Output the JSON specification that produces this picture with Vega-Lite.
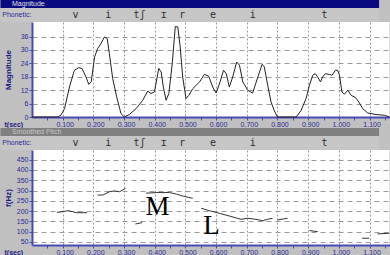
{
  "$schema": "https://vega.github.io/schema/vega-lite/v6.json",
  "background": "#c0c0c0",
  "padding": 0,
  "autosize": {"type": "pad"},
  "spacing": 0,
  "bounds": "flush",
  "config": {
    "view": {"stroke": null},
    "axis": {
      "labelFont": "Liberation Sans", "labelFontSize": 7, "labelColor": "#2c2c96",
      "domainColor": "#4a4ab4", "domainWidth": 2, "tickColor": "#4a4ab4", "tickSize": 3,
      "gridColor": "#9a9a9a", "titleFont": "Liberation Sans", "titleFontSize": 8,
      "titleFontWeight": "bold", "titleColor": "#1a1a80", "labelOverlap": false, "labelFlush": false
    },
    "axisX": {"gridDash": [2, 2]},
    "axisY": {"gridDash": [5, 4]}
  },
  "datasets": {
    "phon": [
      {"t": 0.146, "ph": "v"}, {"t": 0.256, "ph": "i"}, {"t": 0.361, "ph": "tʃ"}, {"t": 0.442, "ph": "ɪ"},
      {"t": 0.504, "ph": "r"}, {"t": 0.608, "ph": "e"}, {"t": 0.741, "ph": "i"}, {"t": 0.982, "ph": "t"}
    ]
  },
  "vconcat": [
    {
      "width": 357.5, "height": 8,
      "data": {"values": [{"name": "Magnitude"}]},
      "layer": [
        {"mark": {"type": "rect", "color": "#0a0a80"},
         "encoding": {"x": {"datum": -0.1059, "type": "quantitative", "scale": {"domain": [0, 1.165]}, "axis": null}, "x2": {"datum": 1.165}}},
        {"mark": {"type": "text", "align": "left", "baseline": "middle", "fontSize": 7, "color": "#e0e0e0", "font": "Liberation Sans"},
         "encoding": {"x": {"datum": -0.067, "type": "quantitative"}, "text": {"field": "name"}}}
      ]
    },
    {
      "width": 357.5, "height": 14,
      "data": {"name": "phon"},
      "layer": [
        {"data": {"values": [{"label": "Phonetic:"}]},
         "mark": {"type": "rect", "color": "#c6c6c6"},
         "encoding": {"x": {"datum": -0.1059, "type": "quantitative", "scale": {"domain": [0, 1.165]}, "axis": null}, "x2": {"datum": 1.165}}},
        {"data": {"values": [{"label": "Phonetic:"}]},
         "mark": {"type": "text", "align": "left", "baseline": "middle", "fontSize": 7, "color": "#2c2c96", "font": "Liberation Sans"},
         "encoding": {"x": {"datum": -0.1, "type": "quantitative"}, "text": {"field": "label"}}},
        {"mark": {"type": "text", "baseline": "middle", "fontSize": 10, "color": "#303030", "font": "DejaVu Sans Mono"},
         "encoding": {"x": {"field": "t", "type": "quantitative"}, "text": {"field": "ph"}}}
      ]
    },
    {
      "width": 357.5, "height": 95,
      "view": {"fill": "white", "stroke": null},
      "data": {"values": [
        {"t": 0, "m": 0}, {"t": 0.085, "m": 0}, {"t": 0.095, "m": 1}, {"t": 0.106, "m": 3.7}, {"t": 0.122, "m": 13.4},
        {"t": 0.138, "m": 20.9}, {"t": 0.152, "m": 22.1}, {"t": 0.163, "m": 21.7}, {"t": 0.176, "m": 17.9}, {"t": 0.185, "m": 14.6},
        {"t": 0.193, "m": 15.7}, {"t": 0.204, "m": 26.9}, {"t": 0.214, "m": 30.6}, {"t": 0.225, "m": 32.9}, {"t": 0.236, "m": 35.8},
        {"t": 0.245, "m": 35.1}, {"t": 0.252, "m": 28.4}, {"t": 0.263, "m": 17.2}, {"t": 0.276, "m": 9}, {"t": 0.29, "m": 1.5},
        {"t": 0.301, "m": 0}, {"t": 0.318, "m": 1.2}, {"t": 0.339, "m": 3.7}, {"t": 0.361, "m": 7.5}, {"t": 0.377, "m": 11.6},
        {"t": 0.388, "m": 10.5}, {"t": 0.399, "m": 11.2}, {"t": 0.413, "m": 21.7}, {"t": 0.421, "m": 20.1}, {"t": 0.428, "m": 13.4},
        {"t": 0.437, "m": 7.5}, {"t": 0.446, "m": 10.5}, {"t": 0.457, "m": 23.9}, {"t": 0.467, "m": 40.5}, {"t": 0.475, "m": 40.3},
        {"t": 0.483, "m": 31.3}, {"t": 0.491, "m": 17.9}, {"t": 0.502, "m": 8.2}, {"t": 0.511, "m": 9.7}, {"t": 0.524, "m": 12.7},
        {"t": 0.546, "m": 15.7}, {"t": 0.562, "m": 19.1}, {"t": 0.576, "m": 18.2}, {"t": 0.589, "m": 13.4}, {"t": 0.6, "m": 10.7},
        {"t": 0.613, "m": 15.7}, {"t": 0.624, "m": 20.9}, {"t": 0.633, "m": 19.4}, {"t": 0.643, "m": 13.4}, {"t": 0.654, "m": 17.9},
        {"t": 0.667, "m": 24.6}, {"t": 0.676, "m": 23.2}, {"t": 0.687, "m": 15.7}, {"t": 0.703, "m": 12}, {"t": 0.719, "m": 10.7},
        {"t": 0.736, "m": 17.9}, {"t": 0.75, "m": 23.6}, {"t": 0.757, "m": 22.4}, {"t": 0.768, "m": 14.2}, {"t": 0.779, "m": 6.7},
        {"t": 0.79, "m": 2.7}, {"t": 0.8, "m": 0}, {"t": 0.861, "m": 0}, {"t": 0.877, "m": 3}, {"t": 0.893, "m": 8.2},
        {"t": 0.904, "m": 14.2}, {"t": 0.915, "m": 18.7}, {"t": 0.923, "m": 19.4}, {"t": 0.931, "m": 17.9}, {"t": 0.94, "m": 15.7},
        {"t": 0.947, "m": 17.9}, {"t": 0.956, "m": 19.4}, {"t": 0.969, "m": 19}, {"t": 0.978, "m": 18.7}, {"t": 0.989, "m": 20.9},
        {"t": 0.996, "m": 20.9}, {"t": 1.002, "m": 18.7}, {"t": 1.01, "m": 11.2}, {"t": 1.018, "m": 10.2}, {"t": 1.029, "m": 12},
        {"t": 1.04, "m": 9.7}, {"t": 1.054, "m": 8.7}, {"t": 1.065, "m": 6.7}, {"t": 1.078, "m": 3.7}, {"t": 1.094, "m": 1.8},
        {"t": 1.121, "m": 1.1}, {"t": 1.148, "m": 0.8}, {"t": 1.164, "m": 0}
      ]},
      "mark": {"type": "line", "color": "#222222", "strokeWidth": 1},
      "encoding": {
        "x": {"field": "t", "type": "quantitative", "scale": {"domain": [0, 1.165], "nice": false},
          "axis": {"values": [0.05, 0.1, 0.15, 0.2, 0.25, 0.3, 0.35, 0.4, 0.45, 0.5, 0.55, 0.6, 0.65, 0.7, 0.75, 0.8, 0.85, 0.9, 0.95, 1, 1.05, 1.1, 1.15],
            "labelExpr": "round(datum.value*20)%2==0 ? format(datum.value, '.3f') : ''",
            "gridOpacity": {"condition": {"test": "round(datum.value*20)%2==1", "value": 0}, "value": 1},
            "grid": true, "labelPadding": 0, "labelOffset": 2,
            "title": "t(sec)", "titleAngle": 0, "titleAlign": "left", "titleBaseline": "top", "titleX": -28, "titleY": 3, "titleFontSize": 7}},
        "y": {"field": "m", "type": "quantitative", "scale": {"domain": [0, 42.5], "nice": false},
          "axis": {"values": [0, 6, 12, 18, 24, 30, 36], "grid": true, "labelPadding": 1, "labelOverlap": false,
            "title": "Magnitude", "titleX": -24, "titleY": 47.5, "titleAlign": "center", "titleBaseline": "middle", "titleFontSize": 8}}
      }
    },
    {
      "width": 357.5, "height": 11,
      "data": {"values": [{}]},
      "mark": {"type": "text"},
      "encoding": {"text": {"value": ""}}
    },
    {
      "width": 357.5, "height": 8,
      "data": {"values": [{"name": "Smoothed Pitch"}]},
      "layer": [
        {"mark": {"type": "rect", "color": "#808080"},
         "encoding": {"x": {"datum": -0.1059, "type": "quantitative", "scale": {"domain": [0, 1.165]}, "axis": null}, "x2": {"datum": 1.165}}},
        {"mark": {"type": "text", "align": "left", "baseline": "middle", "fontSize": 7, "color": "#c8c8c8", "font": "Liberation Sans"},
         "encoding": {"x": {"datum": -0.067, "type": "quantitative"}, "text": {"field": "name"}}}
      ]
    },
    {
      "width": 357.5, "height": 14,
      "data": {"name": "phon"},
      "layer": [
        {"data": {"values": [{"label": "Phonetic:"}]},
         "mark": {"type": "rect", "color": "#c6c6c6"},
         "encoding": {"x": {"datum": -0.1059, "type": "quantitative", "scale": {"domain": [0, 1.165]}, "axis": null}, "x2": {"datum": 1.165}}},
        {"data": {"values": [{"label": "Phonetic:"}]},
         "mark": {"type": "text", "align": "left", "baseline": "middle", "fontSize": 7, "color": "#2c2c96", "font": "Liberation Sans"},
         "encoding": {"x": {"datum": -0.1, "type": "quantitative"}, "text": {"field": "label"}}},
        {"mark": {"type": "text", "baseline": "middle", "fontSize": 10, "color": "#303030", "font": "DejaVu Sans Mono"},
         "encoding": {"x": {"field": "t", "type": "quantitative"}, "text": {"field": "ph"}}}
      ]
    },
    {
      "width": 357.5, "height": 95,
      "view": {"fill": "white", "stroke": null},
      "encoding": {
        "x": {"field": "t", "type": "quantitative", "scale": {"domain": [0, 1.165], "nice": false},
          "axis": {"values": [0.05, 0.1, 0.15, 0.2, 0.25, 0.3, 0.35, 0.4, 0.45, 0.5, 0.55, 0.6, 0.65, 0.7, 0.75, 0.8, 0.85, 0.9, 0.95, 1, 1.05, 1.1, 1.15],
            "labelExpr": "round(datum.value*20)%2==0 ? format(datum.value, '.3f') : ''",
            "gridOpacity": {"condition": {"test": "round(datum.value*20)%2==1", "value": 0}, "value": 1},
            "grid": true, "labelPadding": 0, "labelOffset": 2,
            "title": "t(sec)", "titleAngle": 0, "titleAlign": "left", "titleBaseline": "top", "titleX": -28, "titleY": 3, "titleFontSize": 7}},
        "y": {"field": "f", "type": "quantitative", "scale": {"domain": [35, 497], "nice": false, "zero": false},
          "axis": {"values": [50, 100, 150, 200, 250, 300, 350, 400, 450], "grid": true, "labelPadding": 1, "labelOverlap": false,
            "title": "f(Hz)", "titleX": -24, "titleY": 47.5, "titleAlign": "center", "titleBaseline": "middle", "titleFontSize": 8}}
      },
      "layer": [
        {
          "data": {"values": [
            {"seg": 1, "t": 0.081, "f": 194}, {"seg": 1, "t": 0.1, "f": 197}, {"seg": 1, "t": 0.117, "f": 202}, {"seg": 1, "t": 0.133, "f": 197}, {"seg": 1, "t": 0.144, "f": 192}, {"seg": 1, "t": 0.179, "f": 192},
            {"seg": 2, "t": 0.214, "f": 278}, {"seg": 2, "t": 0.231, "f": 278}, {"seg": 2, "t": 0.252, "f": 294}, {"seg": 2, "t": 0.269, "f": 298}, {"seg": 2, "t": 0.285, "f": 294}, {"seg": 2, "t": 0.296, "f": 303}, {"seg": 2, "t": 0.305, "f": 311},
            {"seg": 3, "t": 0.337, "f": 137}, {"seg": 3, "t": 0.359, "f": 144},
            {"seg": 4, "t": 0.372, "f": 287}, {"seg": 4, "t": 0.405, "f": 290}, {"seg": 4, "t": 0.448, "f": 290}, {"seg": 4, "t": 0.47, "f": 283}, {"seg": 4, "t": 0.491, "f": 273}, {"seg": 4, "t": 0.524, "f": 262},
            {"seg": 5, "t": 0.551, "f": 214}, {"seg": 5, "t": 0.578, "f": 202}, {"seg": 5, "t": 0.611, "f": 189}, {"seg": 5, "t": 0.643, "f": 176}, {"seg": 5, "t": 0.681, "f": 160}, {"seg": 5, "t": 0.703, "f": 165}, {"seg": 5, "t": 0.73, "f": 160}, {"seg": 5, "t": 0.752, "f": 153}, {"seg": 5, "t": 0.768, "f": 160}, {"seg": 5, "t": 0.784, "f": 165},
            {"seg": 6, "t": 0.8, "f": 157}, {"seg": 6, "t": 0.833, "f": 165},
            {"seg": 7, "t": 0.904, "f": 105}, {"seg": 7, "t": 0.931, "f": 100},
            {"seg": 8, "t": 1.076, "f": 68}, {"seg": 8, "t": 1.099, "f": 68},
            {"seg": 9, "t": 1.126, "f": 89}, {"seg": 9, "t": 1.164, "f": 92}
          ]},
          "mark": {"type": "line", "color": "#333333", "strokeWidth": 1},
          "encoding": {"detail": {"field": "seg", "type": "nominal"}}
        },
        {
          "data": {"values": [{"label": "M", "t": 0.409, "f": 220}, {"label": "L", "t": 0.585, "f": 128}]},
          "mark": {"type": "text", "font": "Liberation Serif", "fontSize": 27, "color": "#000000", "baseline": "middle"},
          "encoding": {"text": {"field": "label"}}
        }
      ]
    },
    {
      "width": 357.5, "height": 10,
      "view": {"fill": "#c0c0c0", "fillOpacity": 0, "stroke": null},
      "data": {"values": [{}]},
      "mark": {"type": "text"},
      "encoding": {"text": {"value": ""}}
    }
  ]
}
